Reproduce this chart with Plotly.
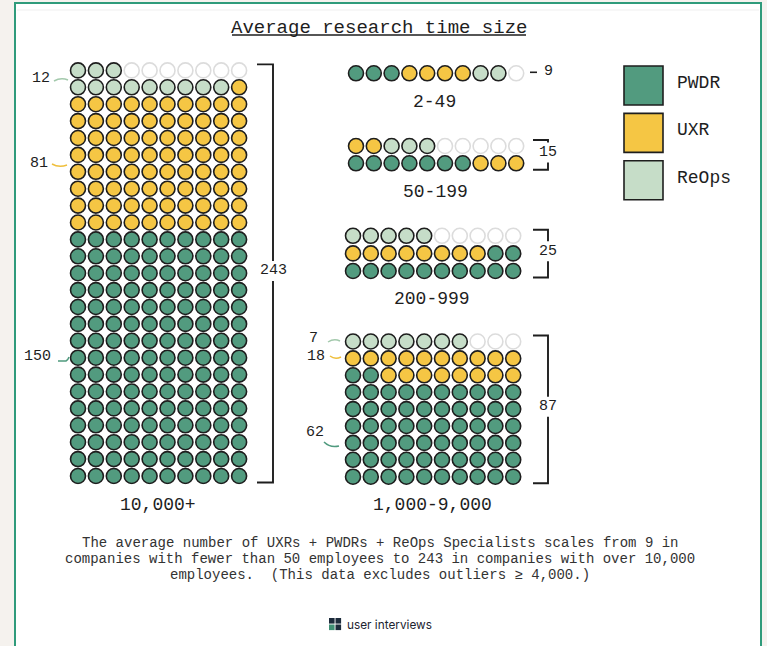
import math
import plotly.graph_objects as go

W, H = 767, 646

# ---------------- data ----------------
groups = ["2-49", "50-199", "200-999", "1,000-9,000", "10,000+"]
pwdr = [3, 7, 12, 62, 150]
uxr = [4, 5, 8, 18, 81]
reops = [2, 3, 5, 7, 12]
roles = ["PWDR", "UXR", "ReOps"]
labelled_groups = ["1,000-9,000", "10,000+"]
title_text = "Average research time size"
caption_lines = [
    "The average number of UXRs + PWDRs + ReOps Specialists scales from 9 in",
    "companies with fewer than 50 employees to 243 in companies with over 10,000",
    "employees.\u00a0 (This data excludes outliers \u2265 4,000.)",
]
brand_text = "user interviews"

# ---------------- styles / layout constants ----------------
COLS = 10
FILL = {"PWDR": "#529b7f", "UXR": "#f5c644", "ReOps": "#c6ddc8"}
TICK = {"PWDR": "#4f9a7e", "UXR": "#efbf3c", "ReOps": "#a3c9ac"}
INK = "#1e1e1e"
EMPTY_LINE = "#dcdcdc"
MONO = "Liberation Mono, Courier New, monospace"

# per-group pixel geometry: first column centre x, column step, bottom row centre y, row step
GEO = {
    "2-49": dict(x0=356, dx=17.8, yb=73.3, dy=17.3, lab=(434, 102)),
    "50-199": dict(x0=356, dx=17.8, yb=163.3, dy=17.3, lab=(435, 192)),
    "200-999": dict(x0=353, dx=17.8, yb=271.0, dy=17.6, lab=(432, 299)),
    "1,000-9,000": dict(x0=353, dx=17.8, yb=476.7, dy=16.9, lab=(432, 505)),
    "10,000+": dict(x0=78, dx=17.9, yb=476.0, dy=16.9, lab=(158, 505)),
}
# bracket horizontal extent (left, right) per group
BRACKET_X = {
    "50-199": (533, 548), "200-999": (533, 548), "1,000-9,000": (533, 548),
    "10,000+": (257, 273),
}
# side-label anchor (right edge x, y) and tick curve per group/role
SIDE = {
    "10,000+": {
        "ReOps": ((52, 78), "M54,81 Q61,77 68,80"),
        "UXR": ((50, 163), "M52,164 Q59,168 67,165"),
        "PWDR": ((53, 356), "M58,361 L66,361 Q68,360 69,357"),
    },
    "1,000-9,000": {
        "ReOps": ((320, 338), "M328,342 Q334,338 340,341"),
        "UXR": ((327, 356), "M330,356 Q335,360 341,357"),
        "PWDR": ((326, 432), "M324,442 Q330,448 339,446"),
    },
}


def cell_positions(counts):
    """Snake fill from the bottom row; the partial top row is left aligned."""
    seq = [r for r, c in zip(roles, counts) for _ in range(c)]
    n = len(seq)
    nrows = math.ceil(n / COLS)
    partial = n % COLS != 0
    cells = {r: ([], []) for r in roles}
    for i, role in enumerate(seq):
        row, pos = divmod(i, COLS)
        top_partial = partial and row == nrows - 1
        col = pos if (top_partial or row % 2 == 0) else COLS - 1 - pos
        cells[role][0].append(col)
        cells[role][1].append(row)
    empty_cols = list(range(n - (nrows - 1) * COLS, COLS)) if partial else []
    empty = (empty_cols, [nrows - 1] * len(empty_cols))
    return cells, empty, nrows


fig = go.Figure()
layout_axes = {
    "xaxis": dict(visible=False, fixedrange=True, domain=[0, 1], range=[0, W]),
    "yaxis": dict(visible=False, fixedrange=True, domain=[0, 1], range=[H, 0]),
}
shapes = []
annotations = []

# frame
shapes.append(dict(type="rect", xref="paper", yref="paper", layer="below",
                   x0=15 / W, x1=761 / W, y0=-0.1, y1=1 - 3 / H,
                   fillcolor="white", line=dict(color="#2f9b7b", width=2)))
shapes.append(dict(type="line", xref="x", yref="y", layer="below",
                   x0=17, x1=759, y0=10, y1=10, line=dict(color="#efefef", width=1)))

# title
annotations.append(dict(xref="x", yref="y", x=379, y=28, text=title_text, showarrow=False,
                        xanchor="center", yanchor="middle",
                        font=dict(family=MONO, size=19, color=INK)))
shapes.append(dict(type="line", xref="x", yref="y", x0=232, x1=526, y0=35, y1=35,
                   line=dict(color=INK, width=1.5)))

for j, g in enumerate(groups):
    counts = [pwdr[j], uxr[j], reops[j]]
    total = sum(counts)
    cells, empty, nrows = cell_positions(counts)
    geo = GEO[g]
    n = j + 2
    xd = [(geo["x0"] - geo["dx"] / 2) / W, (geo["x0"] + (COLS - 0.5) * geo["dx"]) / W]
    ybot_px = geo["yb"] + geo["dy"] / 2
    ytop_px = geo["yb"] - (nrows - 0.5) * geo["dy"]
    yd = [1 - ybot_px / H, 1 - ytop_px / H]
    layout_axes[f"xaxis{n}"] = dict(visible=False, fixedrange=True, domain=xd,
                                    range=[-0.5, COLS - 0.5])
    layout_axes[f"yaxis{n}"] = dict(visible=False, fixedrange=True, domain=yd,
                                    range=[-0.5, nrows - 0.5])
    if empty[0]:
        fig.add_trace(go.Scatter(x=empty[0], y=empty[1], mode="markers",
                                 xaxis=f"x{n}", yaxis=f"y{n}", showlegend=False,
                                 hoverinfo="skip",
                                 marker=dict(size=15, color="white",
                                             line=dict(color=EMPTY_LINE, width=1.6))))
    for role in roles:
        xs, ys = cells[role]
        if not xs:
            continue
        fig.add_trace(go.Scatter(x=xs, y=ys, mode="markers", name=role,
                                 xaxis=f"x{n}", yaxis=f"y{n}", showlegend=False,
                                 hovertemplate=f"{g} · {role}<extra></extra>",
                                 marker=dict(size=15, color=FILL[role],
                                             line=dict(color=INK, width=1.6))))

    # group label
    lx, ly = geo["lab"]
    annotations.append(dict(xref="x", yref="y", x=lx, y=ly, text=g, showarrow=False,
                            xanchor="center", yanchor="middle",
                            font=dict(family=MONO, size=18, color=INK)))

    # total bracket / marker
    top_row_y = geo["yb"] - (nrows - 1) * geo["dy"]
    if nrows == 1:
        shapes.append(dict(type="line", xref="x", yref="y", x0=530, x1=537,
                           y0=geo["yb"] - 1, y1=geo["yb"] - 1,
                           line=dict(color=INK, width=1.6)))
        annotations.append(dict(xref="x", yref="y", x=548, y=geo["yb"] - 2,
                                text=str(total), showarrow=False,
                                xanchor="center", yanchor="middle",
                                font=dict(family=MONO, size=15, color=INK)))
    else:
        bl, br = BRACKET_X[g]
        btop = top_row_y - 6
        bbot = geo["yb"] + 6.5
        mid = (btop + bbot) / 2 - 2.5
        gap = 10
        shapes.append(dict(type="path", xref="x", yref="y",
                           path=f"M{bl},{btop} L{br},{btop} L{br},{mid - gap}",
                           line=dict(color=INK, width=1.9)))
        shapes.append(dict(type="path", xref="x", yref="y",
                           path=f"M{br},{mid + gap} L{br},{bbot} L{bl},{bbot}",
                           line=dict(color=INK, width=1.9)))
        annotations.append(dict(xref="x", yref="y", x=br, y=mid, text=str(total),
                                showarrow=False, xanchor="center", yanchor="middle",
                                font=dict(family=MONO, size=15, color=INK)))

    # side labels with small tick curves
    if g in labelled_groups:
        for role, c in zip(roles, counts):
            (sx, sy), path = SIDE[g][role]
            annotations.append(dict(xref="x", yref="y", x=sx, y=sy, text=str(c),
                                    showarrow=False, xanchor="right", yanchor="middle",
                                    font=dict(family=MONO, size=15, color=INK)))
            shapes.append(dict(type="path", xref="x", yref="y", path=path,
                               line=dict(color=TICK[role], width=1.5)))

# legend
for i, role in enumerate(roles):
    y0 = 66 + i * 47.4
    shapes.append(dict(type="rect", xref="x", yref="y", x0=624, x1=663, y0=y0, y1=y0 + 39,
                       fillcolor=FILL[role], line=dict(color=INK, width=1.6)))
    annotations.append(dict(xref="x", yref="y", x=675, y=y0 + 17, text=role,
                            showarrow=False, xanchor="left", yanchor="middle",
                            font=dict(family=MONO, size=18, color=INK)))

# caption
for i, line in enumerate(caption_lines):
    annotations.append(dict(xref="x", yref="y", x=380, y=543 + i * 16, text=line,
                            showarrow=False, xanchor="center", yanchor="middle",
                            font=dict(family=MONO, size=14, color="#333333")))

# brand logo
logo = [(329, 618, "#1c2b3b"), (335.5, 618, "#1c2b3b"),
        (329, 624.5, "#3f8f74"), (335.5, 624.5, "#1c2b3b")]
for lx0, ly0, col in logo:
    shapes.append(dict(type="rect", xref="x", yref="y", x0=lx0, x1=lx0 + 5.6,
                       y0=ly0, y1=ly0 + 5.6, fillcolor=col, line=dict(width=0)))
annotations.append(dict(xref="x", yref="y", x=345, y=624.5, text=brand_text,
                        showarrow=False, xanchor="left", yanchor="middle",
                        font=dict(family="Inter, Noto Sans, sans-serif", size=11.8,
                                  color="#1c2430")))

fig.update_layout(
    width=W, height=H,
    margin=dict(l=0, r=0, t=0, b=0),
    paper_bgcolor="#f5f2ee",
    plot_bgcolor="rgba(0,0,0,0)",
    showlegend=False,
    shapes=shapes,
    annotations=annotations,
    **layout_axes,
)

fig.write_html("out.html")
